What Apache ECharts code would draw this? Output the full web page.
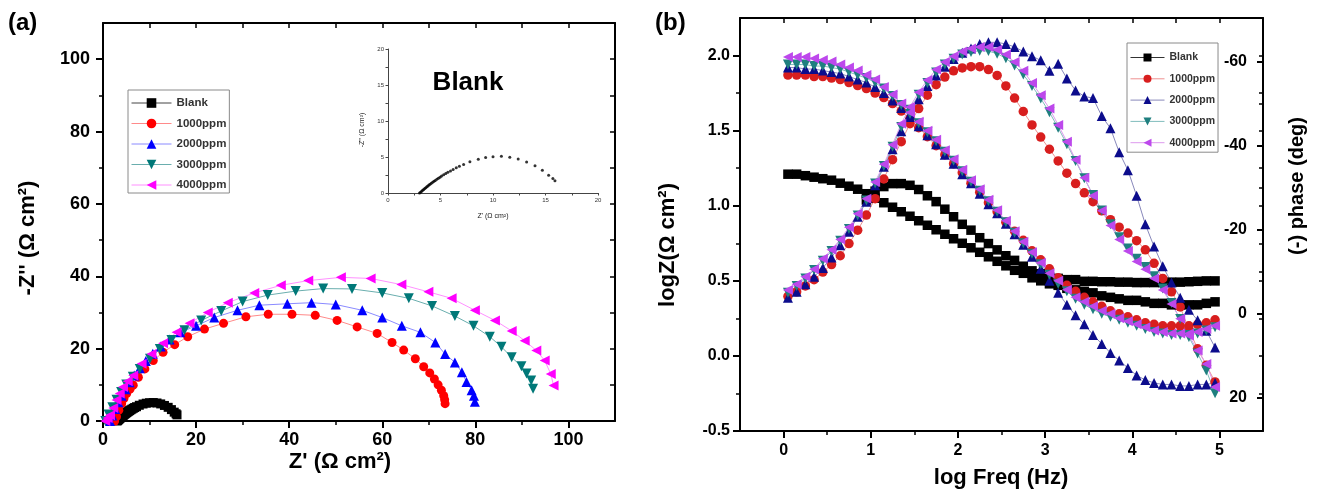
<!DOCTYPE html>
<html>
<head>
<meta charset="utf-8">
<script src="https://cdn.jsdelivr.net/npm/echarts@6/dist/echarts.min.js"></script>
<style>
html,body{margin:0;padding:0;background:#fff;}
#chart{width:1319px;height:495px;}
</style>
</head>
<body>
<div id="chart"></div>
<script>
// ================= DATA =================
const seriesNames = ['Blank', '1000ppm', '2000ppm', '3000ppm', '4000ppm'];

// (a) Nyquist data: [Z', -Z''] (Ω cm²)
const nyqBlank = [[3.0,0.0],[3.1,0.12],[3.2,0.25],[3.3,0.37],[3.4,0.5],[3.5,0.62],[3.6,0.74],[3.7,0.86],[3.8,0.98],[3.9,1.1],[4.0,1.22],[4.12,1.35],[4.25,1.48],[4.38,1.62],[4.5,1.75],[4.65,1.9],[4.8,2.05],[4.95,2.2],[5.1,2.35],[5.3,2.52],[5.5,2.7],[5.7,2.87],[5.95,3.07],[6.2,3.27],[6.5,3.5],[6.8,3.72],[7.2,3.95],[7.8,4.35],[8.6,4.7],[9.3,4.92],[10.0,5.05],[10.8,5.1],[11.6,4.98],[12.4,4.72],[13.2,4.3],[14.0,3.78],[14.7,3.15],[15.3,2.45],[15.7,2.0],[15.9,1.7]];
const nyq1000 = [[2.5,0],[2.9,1.2],[3.4,3.0],[4.0,4.8],[4.5,6.2],[5.1,7.6],[5.8,8.8],[6.5,9.9],[7.6,12.1],[9.0,14.4],[10.8,16.7],[12.9,19.0],[15.4,21.1],[18.2,23.3],[21.8,25.4],[25.9,27.0],[30.7,28.8],[35.5,29.5],[40.6,29.5],[45.6,29.2],[50.3,27.8],[54.6,26.0],[58.9,24.2],[62.1,21.7],[64.6,19.6],[67.1,17.2],[68.9,15.0],[70.2,13.3],[71.2,11.6],[72.0,10.0],[72.7,8.5],[73.2,7.0],[73.4,5.9],[73.5,4.8]];
const nyq2000 = [[1.5,0],[2.0,1.5],[2.6,3.3],[3.3,5.2],[4.0,7.0],[4.8,8.8],[5.7,10.7],[6.7,12.6],[7.9,14.6],[9.2,16.6],[10.7,18.6],[12.4,20.6],[14.3,22.5],[16.6,24.5],[20.0,26.3],[23.9,28.6],[28.9,30.6],[33.6,32.0],[39.6,32.4],[44.8,32.7],[50.0,32.2],[55.7,30.6],[60.0,28.6],[64.2,26.3],[68.2,24.5],[71.4,21.7],[73.5,18.5],[75.6,16.2],[77.1,13.5],[78.1,10.8],[79.2,8.5],[79.7,7.0],[79.9,5.3]];
const nyq3000 = [[0.5,0],[1.2,1.8],[2.0,3.8],[2.9,5.9],[3.9,8.0],[5.0,10.1],[6.4,12.2],[7.9,14.4],[10.1,17.2],[12.2,19.9],[14.7,22.4],[17.5,25.1],[21.1,27.8],[25.4,30.4],[30.0,33.0],[35.4,34.8],[41.4,35.9],[47.3,36.6],[53.5,36.5],[60.0,35.4],[65.7,33.9],[70.7,31.8],[75.6,29.0],[79.6,26.3],[83.1,23.3],[85.6,20.5],[87.8,17.6],[89.9,15.1],[91.0,13.1],[92.0,11.2],[92.4,8.9]];
const nyq4000 = [[0.5,0],[1.0,0.8],[1.5,1.6],[2.2,3.6],[2.9,5.8],[3.6,7.6],[4.3,9.4],[5.3,11.0],[6.5,12.6],[8.3,15.8],[10.4,18.5],[12.9,21.5],[15.8,24.5],[18.6,27.0],[22.5,30.0],[26.8,32.7],[32.5,35.4],[38.2,37.5],[44.1,38.8],[51.1,39.7],[57.5,39.4],[64.1,37.7],[69.9,35.7],[74.9,33.9],[79.9,30.6],[84.2,27.8],[87.8,24.9],[90.6,22.2],[93.1,19.5],[94.9,16.7],[96.2,13.0],[96.8,9.8]];

// (b) Bode data
const logFreq = [0.05,0.15,0.25,0.35,0.45,0.55,0.65,0.75,0.85,0.95,1.05,1.15,1.25,1.35,1.45,1.55,1.65,1.75,1.85,1.95,2.05,2.15,2.25,2.35,2.45,2.55,2.65,2.75,2.85,2.95,3.05,3.15,3.25,3.35,3.45,3.55,3.65,3.75,3.85,3.95,4.05,4.15,4.25,4.35,4.45,4.55,4.65,4.75,4.85,4.95];
const logZBlank = [1.21,1.21,1.20,1.19,1.18,1.17,1.15,1.13,1.11,1.08,1.05,1.02,0.99,0.96,0.93,0.90,0.87,0.84,0.81,0.78,0.75,0.72,0.69,0.66,0.63,0.60,0.57,0.55,0.52,0.50,0.48,0.47,0.45,0.44,0.43,0.42,0.40,0.39,0.38,0.37,0.37,0.36,0.35,0.35,0.34,0.34,0.34,0.34,0.35,0.36];
const logZ1000 = [1.87,1.87,1.87,1.86,1.86,1.85,1.84,1.82,1.80,1.78,1.75,1.72,1.68,1.63,1.58,1.52,1.46,1.40,1.34,1.28,1.22,1.15,1.09,1.02,0.96,0.89,0.83,0.77,0.70,0.64,0.58,0.52,0.47,0.43,0.39,0.36,0.33,0.30,0.28,0.26,0.24,0.22,0.21,0.20,0.20,0.20,0.20,0.21,0.22,0.24];
const logZ2000 = [1.92,1.92,1.91,1.91,1.90,1.89,1.88,1.86,1.84,1.82,1.79,1.75,1.70,1.65,1.59,1.53,1.47,1.41,1.34,1.28,1.21,1.15,1.08,1.01,0.95,0.88,0.81,0.74,0.66,0.58,0.50,0.42,0.34,0.27,0.21,0.14,0.08,0.02,-0.03,-0.08,-0.13,-0.16,-0.18,-0.19,-0.19,-0.20,-0.20,-0.19,-0.19,-0.18];
const logZ3000 = [1.94,1.94,1.94,1.93,1.93,1.92,1.91,1.89,1.87,1.85,1.82,1.78,1.73,1.67,1.61,1.55,1.49,1.43,1.36,1.30,1.23,1.16,1.10,1.03,0.96,0.89,0.82,0.75,0.68,0.61,0.54,0.48,0.43,0.38,0.34,0.31,0.28,0.26,0.24,0.22,0.20,0.18,0.16,0.15,0.14,0.14,0.14,0.15,0.17,0.19];
const logZ4000 = [1.99,1.99,1.99,1.98,1.97,1.96,1.94,1.92,1.90,1.87,1.84,1.79,1.74,1.68,1.62,1.56,1.50,1.44,1.37,1.31,1.24,1.17,1.11,1.04,0.97,0.90,0.83,0.76,0.69,0.62,0.55,0.50,0.44,0.39,0.36,0.33,0.30,0.28,0.25,0.23,0.21,0.19,0.17,0.16,0.15,0.15,0.15,0.16,0.18,0.20];
const phaseBlank = [null,null,null,null,null,null,null,null,null,-27.1,-29.2,-30.3,-31.0,-31.0,-30.6,-29.6,-28.1,-26.7,-24.9,-23.1,-21.3,-19.9,-18.1,-16.7,-15.2,-13.8,-12.7,-11.3,-10.2,-9.5,-8.8,-8.4,-8.1,-8.1,-7.7,-7.7,-7.6,-7.6,-7.5,-7.5,-7.4,-7.4,-7.4,-7.4,-7.5,-7.5,-7.6,-7.7,-7.8,-7.8];
const phase1000 = [-4.1,-5.2,-6.6,-8.1,-9.9,-11.7,-13.8,-16.7,-19.9,-23.5,-27.4,-32.1,-36.7,-41.0,-45.3,-48.9,-52.1,-54.6,-56.4,-57.9,-58.6,-58.9,-58.9,-58.2,-56.8,-54.3,-51.4,-48.2,-45.0,-42.1,-39.2,-36.4,-33.5,-31.0,-28.8,-26.7,-24.5,-22.4,-20.6,-19.2,-17.4,-15.2,-12.0,-8.4,-5.2,-1.6,3.8,8.4,12.3,16.3];
const phase2000 = [-3.8,-5.2,-7.0,-8.8,-10.9,-13.4,-16.3,-19.5,-23.1,-26.7,-30.6,-35.0,-39.2,-43.5,-47.5,-51.1,-54.3,-56.8,-58.9,-60.7,-62.2,-63.2,-64.3,-64.7,-64.7,-64.3,-63.6,-62.5,-61.4,-60.4,-57.9,-59.6,-56.1,-53.2,-51.8,-51.4,-47.1,-44.2,-38.5,-34.2,-28.1,-21.3,-16.0,-11.3,-7.4,-3.8,-0.9,1.6,4.1,8.1];
const phase3000 = [-5.0,-6.6,-8.4,-10.4,-12.6,-14.9,-17.4,-20.2,-23.4,-27.0,-31.0,-35.2,-39.8,-44.5,-48.6,-52.2,-55.0,-57.5,-59.4,-60.8,-61.8,-62.4,-62.7,-62.6,-62.0,-60.9,-59.2,-57.0,-54.3,-51.3,-48.0,-44.3,-40.4,-36.4,-32.3,-28.3,-24.6,-21.3,-18.2,-15.5,-13.1,-11.1,-8.9,-6.0,-2.5,1.3,5.6,9.5,13.6,19.0];
const phase4000 = [-5.6,-7.0,-8.8,-10.6,-13.1,-15.2,-17.7,-20.6,-23.8,-27.4,-31.4,-35.6,-40.3,-45.3,-49.3,-52.8,-55.7,-58.2,-60.0,-61.4,-62.5,-63.2,-63.6,-63.6,-62.9,-61.8,-60.0,-57.9,-55.0,-52.1,-48.9,-45.0,-41.0,-36.7,-32.4,-28.1,-24.5,-21.0,-17.7,-14.9,-12.4,-10.6,-8.4,-5.6,-2.3,1.2,5.2,8.8,12.0,17.5];

// Tick values / labels
const nyqTickLabels = [0, 20, 40, 60, 80, 100];
const nyqMinorTicks = [10, 30, 50, 70, 90];
const nyqFrameTicks = [10, 20, 30, 40, 50, 60, 70, 80, 90, 100];
const insetTickLabels = [0, 5, 10, 15, 20];
const insetTicks = [0, 2.5, 5, 7.5, 10, 12.5, 15, 17.5, 20];
const freqTickLabels = [0, 1, 2, 3, 4, 5];
const freqMinorTicks = [0.5, 1.5, 2.5, 3.5, 4.5];
const freqFrameTicks = [0, 0.5, 1, 1.5, 2, 2.5, 3, 3.5, 4, 4.5, 5];
const logZTickLabels = [-0.5, 0, 0.5, 1, 1.5, 2];
const logZMinorTicks = [-0.25, 0.25, 0.75, 1.25, 1.75];
const logZFrameTicks = [-0.25, 0, 0.25, 0.5, 0.75, 1, 1.25, 1.5, 1.75, 2];
const phaseTickLabels = [-60, -40, -20, 0, 20];
const phaseMinorTicks = [-50, -30, -10, 10];

// ================= STYLE =================
const FONT = 'Arial, "Liberation Sans", Helvetica, sans-serif';
const nyqData = [nyqBlank, nyq1000, nyq2000, nyq3000, nyq4000];
const logZData = [logZBlank, logZ1000, logZ2000, logZ3000, logZ4000];
const phaseData = [phaseBlank, phase1000, phase2000, phase3000, phase4000];
const symbols = ['rect', 'circle', 'triangle', 'triangle', 'triangle'];
const symbolRot = [0, 0, 0, 180, 90];
const aColors = ['#000000', '#ff0000', '#0000ff', '#007878', '#ff00ff'];
const aLines = ['#444444', '#ff8a8a', '#8a8aff', '#6aaeae', '#ff90ff'];
const aSizes = [9, 9, 10, 10, 10];
const bColors = ['#000000', '#d81e1e', '#0c0c8c', '#1f7f7f', '#bd48ec'];
const bLines = ['#333333', '#ee9090', '#8888bb', '#80bcbc', '#dd99ee'];
const bSizes = [9.5, 9.5, 10, 10, 10];

function axis(base) {
  return Object.assign({
    type: 'value', splitLine: {show: false},
    axisLine: {show: true, onZero: false, lineStyle: {color: '#000', width: 2}},
    axisTick: {show: false}, axisLabel: {show: false}
  }, base);
}
function ticks(values, length, inside, width) {
  return {show: true, customValues: values, length: length, inside: !!inside,
          lineStyle: {color: '#000', width: width || 1.5}};
}
function labels(values, size, margin, extra) {
  return Object.assign({show: true, customValues: values, fontFamily: FONT, fontWeight: 'bold',
                        fontSize: size, color: '#000', margin: margin}, extra || {});
}
const noLine = {show: false, onZero: false};

const xAxes = [
  // grid 0: (a)
  axis({gridIndex: 0, min: 0, max: 110, position: 'bottom',
        axisTick: ticks(nyqTickLabels, 7, false, 2), axisLabel: labels(nyqTickLabels, 18, 10)}),
  axis({gridIndex: 0, min: 0, max: 110, position: 'bottom', axisLine: noLine,
        axisTick: ticks(nyqMinorTicks, 4, false)}),
  axis({gridIndex: 0, min: 0, max: 110, position: 'top', axisTick: ticks(nyqFrameTicks, 5, true)}),
  // grid 1: inset
  axis({gridIndex: 1, min: 0, max: 20, position: 'bottom',
        axisLine: {show: true, onZero: false, lineStyle: {color: '#444', width: 1}},
        axisTick: {show: true, customValues: insetTicks, length: 2.5, lineStyle: {color: '#444', width: 1}},
        axisLabel: {show: true, customValues: insetTickLabels, fontSize: 6, color: '#333', margin: 4, fontFamily: FONT}}),
  // grid 2: (b)
  axis({gridIndex: 2, min: -0.5, max: 5.5, position: 'bottom',
        axisTick: ticks(freqTickLabels, 7, false, 2), axisLabel: labels(freqTickLabels, 16, 12)}),
  axis({gridIndex: 2, min: -0.5, max: 5.5, position: 'bottom', axisLine: noLine,
        axisTick: ticks(freqMinorTicks, 4, false)}),
  axis({gridIndex: 2, min: -0.5, max: 5.5, position: 'top', axisTick: ticks(freqFrameTicks, 5, true)})
];

const yAxes = [
  // grid 0
  axis({gridIndex: 0, min: 0, max: 110, position: 'left',
        axisTick: ticks(nyqTickLabels, 7, false, 2), axisLabel: labels(nyqTickLabels, 18, 13)}),
  axis({gridIndex: 0, min: 0, max: 110, position: 'left', axisLine: noLine,
        axisTick: ticks(nyqMinorTicks, 4, false)}),
  axis({gridIndex: 0, min: 0, max: 110, position: 'right', axisTick: ticks(nyqFrameTicks, 5, true)}),
  // grid 1 inset
  axis({gridIndex: 1, min: 0, max: 20, position: 'left',
        axisLine: {show: true, onZero: false, lineStyle: {color: '#444', width: 1}},
        axisTick: {show: true, customValues: insetTicks, length: 2.5, lineStyle: {color: '#444', width: 1}},
        axisLabel: {show: true, customValues: insetTickLabels, fontSize: 6, color: '#333', margin: 4, fontFamily: FONT}}),
  // grid 2: logZ left
  axis({gridIndex: 2, min: -0.5, max: 2.25, position: 'left',
        axisTick: ticks(logZTickLabels, 7, false, 2),
        axisLabel: labels(logZTickLabels, 16, 10, {formatter: v => Number(v).toFixed(1)})}),
  axis({gridIndex: 2, min: -0.5, max: 2.25, position: 'left', axisLine: noLine,
        axisTick: ticks(logZMinorTicks, 4, false)}),
  // phase right (index 6)
  axis({gridIndex: 2, min: -70.5, max: 28, inverse: true, position: 'right',
        axisTick: ticks(phaseTickLabels, 6, true, 2),
        axisLabel: labels(phaseTickLabels, 16, 16, {inside: true})}),
  axis({gridIndex: 2, min: -70.5, max: 28, inverse: true, position: 'right', axisLine: noLine,
        axisTick: ticks(phaseMinorTicks, 4, true)}),
  axis({gridIndex: 2, min: -0.5, max: 2.25, position: 'right', axisLine: noLine,
        axisTick: ticks(logZFrameTicks, 4, true)})
];

const series = [];
// (a) main Nyquist
seriesNames.forEach((name, i) => {
  series.push({
    type: 'line', name: name, xAxisIndex: 0, yAxisIndex: 0, data: nyqData[i],
    symbol: symbols[i], symbolSize: aSizes[i], symbolRotate: symbolRot[i], showAllSymbol: true,
    itemStyle: {color: aColors[i]}, lineStyle: {color: aLines[i], width: 1}, z: 3
  });
});
// inset
series.push({
  type: 'scatter', name: 'inset', xAxisIndex: 3, yAxisIndex: 3, data: nyqBlank,
  symbol: 'circle', symbolSize: 3, itemStyle: {color: '#000'}
});
// (b) Bode
seriesNames.forEach((name, i) => {
  const zPts = logFreq.map((f, k) => [f, logZData[i][k]]);
  const pPts = logFreq.map((f, k) => [f, phaseData[i][k]]).filter(p => p[1] !== null);
  [[zPts, 4], [pPts, 6]].forEach(([pts, yi]) => {
    series.push({
      type: 'line', name: name, xAxisIndex: 4, yAxisIndex: yi, data: pts,
      symbol: symbols[i], symbolSize: bSizes[i], symbolRotate: symbolRot[i], showAllSymbol: true,
      itemStyle: {color: bColors[i]}, lineStyle: {color: bLines[i], width: 1}, z: 3
    });
  });
});

const legendText = {fontFamily: FONT, fontWeight: 'bold', color: '#333'};
const option = {
  animation: false,
  backgroundColor: '#fff',
  grid: [
    {left: 103, top: 23, width: 512, height: 398},
    {left: 388, top: 49, width: 210, height: 144},
    {left: 740, top: 18, width: 523, height: 413}
  ],
  xAxis: xAxes,
  yAxis: yAxes,
  legend: [
    {orient: 'vertical', left: 128, top: 90, itemWidth: 40, itemHeight: 12, itemGap: 8.5,
     padding: [7, 3, 2, 3], borderColor: '#8a8a8a', borderWidth: 1,
     textStyle: Object.assign({fontSize: 11.5}, legendText),
     data: seriesNames.map((n, i) => ({name: n, itemStyle: {color: aColors[i]}, lineStyle: {color: aLines[i], width: 1}}))},
    {orient: 'vertical', left: 1127, top: 43, itemWidth: 34, itemHeight: 10, itemGap: 10.3,
     padding: [9, 3, 4, 3], borderColor: '#8a8a8a', borderWidth: 1,
     textStyle: Object.assign({fontSize: 10.5}, legendText),
     data: seriesNames.map((n, i) => ({name: n, itemStyle: {color: bColors[i]}, lineStyle: {color: bLines[i], width: 1}}))}
  ],
  graphic: [
    {type: 'text', x: 8, y: 11, style: {text: '(a)', font: 'bold 24px ' + FONT, fill: '#000'}},
    {type: 'text', x: 655, y: 11, style: {text: '(b)', font: 'bold 24px ' + FONT, fill: '#000'}},
    {type: 'text', x: 468, y: 83, style: {text: 'Blank', font: 'bold 26px ' + FONT, fill: '#000', align: 'center', verticalAlign: 'middle'}},
    {type: 'text', x: 340, y: 462, style: {text: 'Z\' (Ω cm²)', font: 'bold 22px ' + FONT, fill: '#000', align: 'center', verticalAlign: 'middle'}},
    {type: 'text', x: 28, y: 238, rotation: Math.PI / 2, style: {text: '-Z\'\' (Ω cm²)', font: 'bold 22px ' + FONT, fill: '#000', align: 'center', verticalAlign: 'middle'}},
    {type: 'text', x: 1001, y: 478, style: {text: 'log Freq (Hz)', font: 'bold 22px ' + FONT, fill: '#000', align: 'center', verticalAlign: 'middle'}},
    {type: 'text', x: 668, y: 245, rotation: Math.PI / 2, style: {text: 'logZ(Ω cm²)', font: 'bold 22px ' + FONT, fill: '#000', align: 'center', verticalAlign: 'middle'}},
    {type: 'text', x: 1297, y: 186, rotation: Math.PI / 2, style: {text: '(-) phase (deg)', font: 'bold 20px ' + FONT, fill: '#000', align: 'center', verticalAlign: 'middle'}},
    {type: 'text', x: 362, y: 130, rotation: Math.PI / 2, style: {text: '-Z\'\' (Ω cm²)', font: '7px ' + FONT, fill: '#222', align: 'center', verticalAlign: 'middle'}},
    {type: 'text', x: 493, y: 216, style: {text: 'Z\' (Ω cm²)', font: '7px ' + FONT, fill: '#222', align: 'center', verticalAlign: 'middle'}}
  ],
  series: series
};

const chart = echarts.init(document.getElementById('chart'), null, {renderer: 'canvas'});
chart.setOption(option);
</script>
</body>
</html>
